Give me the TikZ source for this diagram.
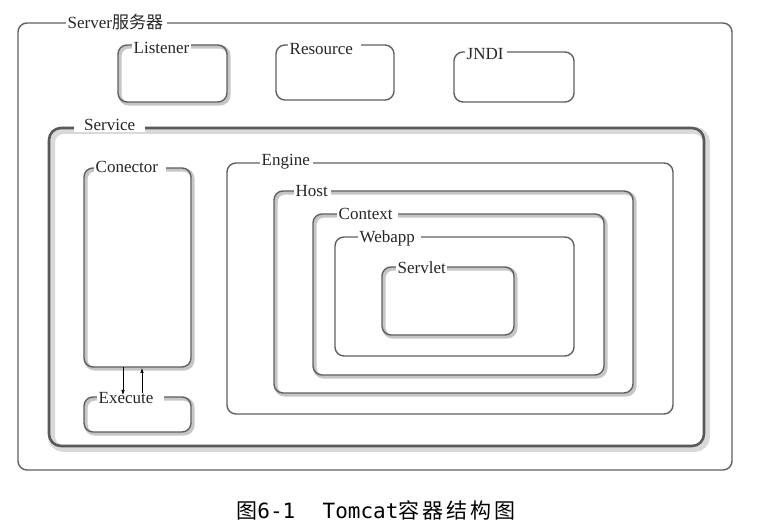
\documentclass[tikz,border=0pt]{standalone}
\usepackage{fontspec}
\setmainfont{Liberation Serif}
\newfontfamily\cjk{Noto Sans CJK SC}
\newfontfamily\capmono{DejaVu Sans Mono}
\usetikzlibrary{fit,arrows.meta}
\newcommand{\gapr}[1]{\rule{#1}{0pt}}
\begin{document}
\begin{tikzpicture}[x=1pt,y=-1pt,
  frame/.style={draw=gray!75!black, line width=1.4pt, rounded corners=9pt, inner sep=0pt},
  embossed/.style={frame, preaction={draw=gray!45, line width=3.6pt, transform canvas={shift={(1.8pt,-1.8pt)}}}},
  heavy/.style={frame, line width=2.6pt, draw=gray!70!black, preaction={draw=gray!30, line width=7pt, transform canvas={shift={(2.5pt,-2.5pt)}}}},
  tag/.style={anchor=west, fill=white, inner sep=1.5pt, text=black!85, font=\fontsize{17}{19}\selectfont},
  flow/.style={-{Latex[length=5pt,width=3.5pt]}, line width=0.6pt}]
\useasboundingbox (0,0) rectangle (758,526);
% Server
\node[frame, fit={(18,23)(732,470)}] (server) {};
\node[tag] (serverlbl) at (66,22) {Server{\cjk 服务器}\gapr{2pt}};
% Listener, Resource, JNDI
\node[embossed, fit={(118,45)(227,102)}] (listener) {};
\node[tag] (listenerlbl) at (132,48) {Listener};
\node[frame, fit={(276,45)(394,100)}] (resource) {};
\node[tag] (resourcelbl) at (288,49) {Resource\gapr{7pt}};
\node[frame, fit={(454,52)(574,102)}] (jndi) {};
\node[tag] (jndilbl) at (465,54) {JNDI\gapr{2pt}};
% Service
\node[heavy, rounded corners=12pt, fit={(49,128)(704,446)}] (service) {};
\node[tag, inner xsep=10pt] (servicelbl) at (74,125) {Service};
% Conector and Execute
\node[embossed, fit={(84,168)(191,367)}] (conector) {};
\node[tag] (conectorlbl) at (94,167) {Conector\gapr{6pt}};
\node[embossed, fit={(84,397)(191,432)}] (execute) {};
\node[tag] (executelbl) at (97,398) {Execute\gapr{9pt}};
\coordinate (cdown) at (123,367);
\coordinate (edown) at (123,395);
\coordinate (eup) at (142,393);
\coordinate (cup) at (142,368);
\draw[flow] (cdown) -- (edown);
\draw[flow] (eup) -- (cup);
% Engine chain
\node[frame, fit={(227,163)(673,414)}] (engine) {};
\node[tag] (enginelbl) at (260,162) {Engine\gapr{2pt}};
\node[embossed, fit={(274,191)(633,393)}] (host) {};
\node[tag] (hostlbl) at (294,191) {Host\gapr{2pt}};
\node[embossed, fit={(313,214)(604,375)}] (context) {};
\node[tag] (contextlbl) at (337,214) {Context\gapr{4pt}};
\node[frame, fit={(335,237)(574,356)}] (webapp) {};
\node[tag] (webapplbl) at (358,238) {Webapp\gapr{5pt}};
\node[embossed, fit={(382,267)(514,335)}] (servlet) {};
\node[tag] (servletlbl) at (396,268) {Servlet};
% Caption
\node[inner sep=0pt, font=\fontsize{21}{24}\selectfont] (caption) at (376,510)
  {{\cjk 图}\capmono 6-1\hspace{1.3em}Tomcat{\cjk 容\hspace{3pt}器\hspace{3pt}结\hspace{3pt}构\hspace{3pt}图}};
\end{tikzpicture}
\end{document}
